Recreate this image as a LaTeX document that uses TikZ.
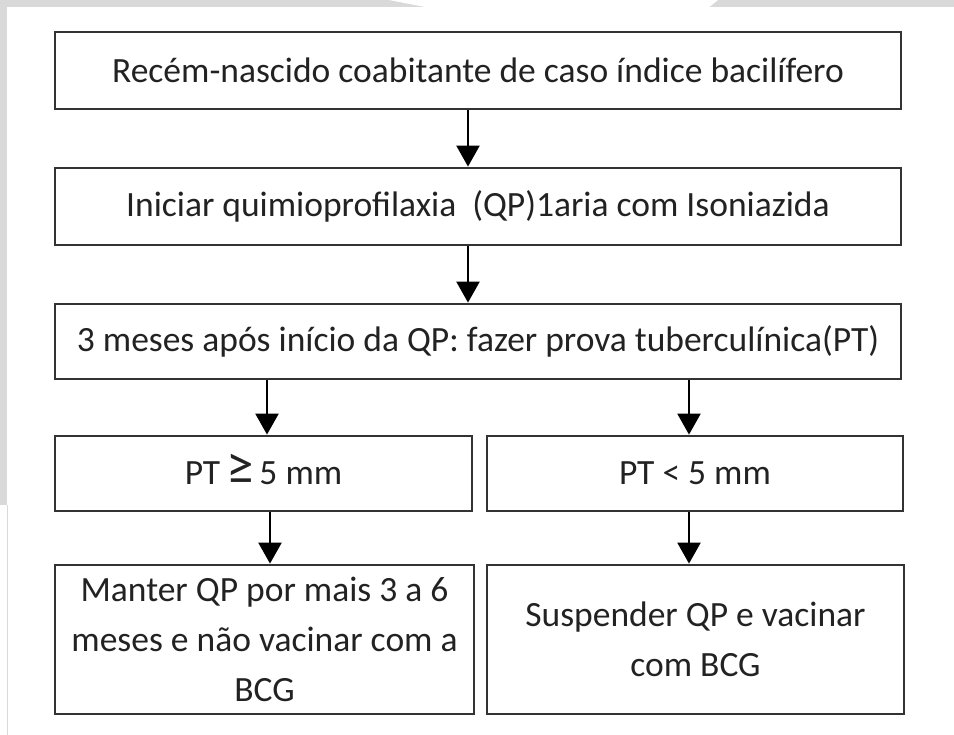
\documentclass[tikz,border=0pt]{standalone}
\usepackage{fontspec}
\setmainfont{Carlito}
\usetikzlibrary{arrows.meta}
\definecolor{edge}{HTML}{333333}
\definecolor{ink}{HTML}{222222}
\definecolor{frame}{HTML}{D9D9D9}
\tikzset{
  box/.style={draw=edge, line width=2.8pt, fill=white, inner sep=0pt, text=ink,
    font=\fontsize{35.5}{42}\selectfont, align=center},
  tallbox/.style={box, font=\fontsize{35.5}{50}\selectfont},
  arr/.style={draw=black, line width=2.4pt, -{Triangle[width=23pt,length=21pt]}},
}
\begin{document}
\begin{tikzpicture}[x=1pt,y=-1pt]
\useasboundingbox (0,0) rectangle (954,735);
\fill[white] (0,0) rectangle (954,735);
% screenshot frame
\fill[frame] (0,0) rectangle (954,7);
\fill[white] (389,0) -- (718,0) -- (709,7.2) -- (426,7.2) -- cycle;
\fill[frame] (0,0) rectangle (7,505);
\draw[frame, line width=1pt] (7,505) -- (7,735);

\node[box, minimum width=846pt, minimum height=77pt] (b1) at (478,70.5)
  {Recém-nascido coabitante de caso índice bacilífero};
\node[box, minimum width=846pt, minimum height=77pt] (b2) at (478,206.5)
  {Iniciar quimioprofilaxia\ \ (QP)1aria com Isoniazida};
\node[box, minimum width=846pt, minimum height=75pt] (b3) at (478,341.5)
  {3 meses após início da QP: fazer prova tuberculínica(PT)};
\node[box, minimum width=417pt, minimum height=75pt] (b4l) at (263.5,473.5)
  {PT\,\smash{\fontsize{55}{55}\selectfont ≥}\,5 mm};
\node[box, minimum width=416pt, minimum height=75pt] (b4r) at (695,473.5)
  {PT < 5 mm};
\node[tallbox, minimum width=419pt, minimum height=149pt] (b5l) at (264.5,639.5)
  {Manter QP por mais 3 a 6\\meses e não vacinar com a\\BCG};
\node[tallbox, minimum width=417pt, minimum height=149pt] (b5r) at (695.5,639.5)
  {Suspender QP e vacinar\\com BCG};

\draw[arr] (468,0 |- b1.south) -- (468,0 |- b2.north);
\draw[arr] (468,0 |- b2.south) -- (468,0 |- b3.north);
\draw[arr] (267,0 |- b3.south) -- (267,0 |- b4l.north);
\draw[arr] (689,0 |- b3.south) -- (689,0 |- b4r.north);
\draw[arr] (270,0 |- b4l.south) -- (270,0 |- b5l.north);
\draw[arr] (689,0 |- b4r.south) -- (689,0 |- b5r.north);
\end{tikzpicture}
\end{document}
